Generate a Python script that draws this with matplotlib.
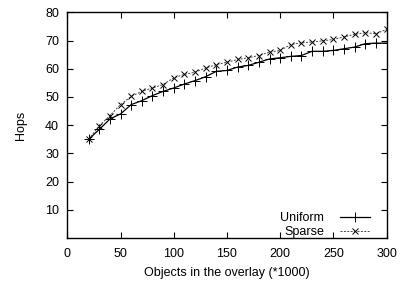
import matplotlib
matplotlib.use('Agg')
import matplotlib.pyplot as plt

plt.rcParams['font.family'] = ['Liberation Sans', 'DejaVu Sans']

objects = [20, 30, 40, 50, 60, 70, 80, 90, 100, 110, 120, 130, 140, 150, 160,
           170, 180, 190, 200, 210, 220, 230, 240, 250, 260, 270, 280, 290, 300]
uniform = [35.0, 38.5, 42.2, 44.0, 47.3, 48.7, 50.5, 52.0, 53.2, 54.6, 55.8, 57.2,
           59.1, 59.4, 60.6, 61.2, 62.3, 63.5, 63.9, 64.4, 64.7, 66.2, 66.2, 66.5,
           67.1, 67.7, 68.9, 69.1, 69.1]
sparse = [35.0, 39.8, 43.4, 47.3, 50.2, 52.0, 53.2, 54.4, 56.8, 58.0, 58.8, 60.3,
          61.5, 62.3, 63.3, 63.9, 64.7, 65.9, 66.5, 68.6, 69.2, 69.5, 69.9, 70.4,
          71.3, 72.2, 72.8, 72.4, 74.0]

fig = plt.figure(figsize=(4.01, 2.81), dpi=100)
ax = fig.add_axes([0.168, 0.153, 0.796, 0.803])

ax.plot(objects, uniform, color='black', lw=0.9, marker='+', ms=6.5, mew=0.7,
        label='Uniform')
ax.plot(objects, sparse, color='#444444', lw=0.7, ls=(0, (2, 1.5)), marker='x',
        ms=5, mew=0.7, mec='black', label='Sparse')

ax.set_xlim(0, 300)
ax.set_ylim(0, 80)
ax.set_xticks(range(0, 301, 50))
ax.set_yticks(range(10, 81, 10))
ax.tick_params(direction='in', top=True, right=True, labelsize=9, length=4, width=0.8)
ax.tick_params(axis='x', pad=7)
ax.tick_params(axis='y', pad=6)
for s in ax.spines.values():
    s.set_linewidth(1.0)

ax.set_xlabel('Objects in the overlay (*1000)', fontsize=9, labelpad=5)
ax.set_ylabel('Hops', fontsize=9, labelpad=13)

ax.legend(loc='lower right', bbox_to_anchor=(0.984, -0.05), frameon=False,
          markerfirst=False, fontsize=9, handlelength=2.4, labelspacing=0.15,
          handletextpad=1.3)

fig.savefig('out.png', dpi=100)
